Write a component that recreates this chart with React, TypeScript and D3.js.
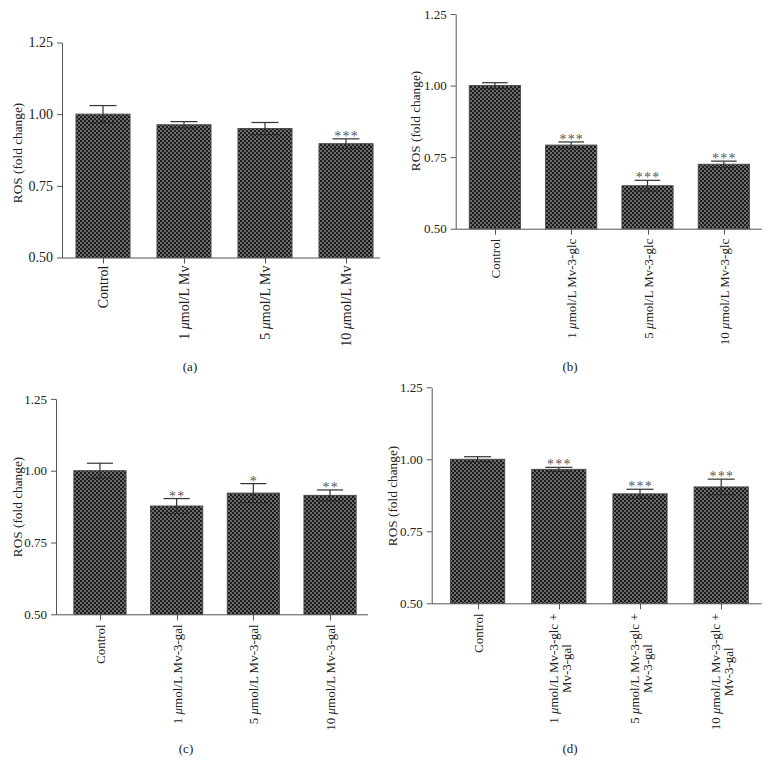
import React, { useEffect, useRef } from 'react';
import * as d3 from 'd3';

// shared y ticks for all four panels
const yTicks = [0.5, 0.75, 1.0, 1.25];

// (a) malvidin
const categoriesA = [['Control'], ['1 μmol/L Mv'], ['5 μmol/L Mv'], ['10 μmol/L Mv']];
const meansA = [1.0, 0.963, 0.95, 0.897];
const errorsA = [0.03, 0.011, 0.021, 0.017];
const starsA = ['', '', '', '***'];

// (b) Mv-3-glc
const categoriesB = [['Control'], ['1 μmol/L Mv-3-glc'], ['5 μmol/L Mv-3-glc'], ['10 μmol/L Mv-3-glc']];
const meansB = [1.0, 0.792, 0.65, 0.725];
const errorsB = [0.01, 0.011, 0.019, 0.011];
const starsB = ['', '***', '***', '***'];

// (c) Mv-3-gal
const categoriesC = [['Control'], ['1 μmol/L Mv-3-gal'], ['5 μmol/L Mv-3-gal'], ['10 μmol/L Mv-3-gal']];
const meansC = [1.0, 0.877, 0.922, 0.914];
const errorsC = [0.026, 0.026, 0.033, 0.019];
const starsC = ['', '**', '*', '**'];

// (d) Mv-3-glc + Mv-3-gal
const categoriesD = [
  ['Control'],
  ['1 μmol/L Mv-3-glc +', 'Mv-3-gal'],
  ['5 μmol/L Mv-3-glc +', 'Mv-3-gal'],
  ['10 μmol/L Mv-3-glc +', 'Mv-3-gal'],
];
const meansD = [1.0, 0.965, 0.88, 0.904];
const errorsD = [0.009, 0.007, 0.016, 0.027];
const starsD = ['', '***', '***', '***'];

const W = 770;
const H = 763;
const FONT = "'Liberation Serif', 'Times New Roman', Times, serif";

const panels = [
  {
    cats: categoriesA, means: meansA, errs: errorsA, stars: starsA,
    axisX: 62, xEnd: 380, yTop: 42.5, yBottom: 257.5, band: [62.5, 386.5], pad: 0.333,
    tickFont: 14, labelGap: 8, yLabelX: 17, yLabelY: 153,
    caption: '(a)', capX: 190, capY: 371,
  },
  {
    cats: categoriesB, means: meansB, errs: errorsB, stars: starsB,
    axisX: 455.7, xEnd: 761.7, yTop: 14, yBottom: 228.7, band: [456.7, 762], pad: 0.33,
    tickFont: 13, labelGap: 10, yLabelX: 415, yLabelY: 121,
    caption: '(b)', capX: 570, capY: 371,
  },
  {
    cats: categoriesC, means: meansC, errs: errorsC, stars: starsC,
    axisX: 56, xEnd: 368, yTop: 398.9, yBottom: 614.3, band: [61.6, 368.4], pad: 0.32,
    tickFont: 13, labelGap: 10, yLabelX: 17, yLabelY: 507,
    caption: '(c)', capX: 186, capY: 753,
  },
  {
    cats: categoriesD, means: meansD, errs: errorsD, stars: starsD,
    axisX: 431.7, xEnd: 761.7, yTop: 387.3, yBottom: 603.3, band: [437, 761.8], pad: 0.333,
    tickFont: 13, labelGap: 10, yLabelX: 392, yLabelY: 496,
    caption: '(d)', capX: 570, capY: 753,
  },
];

// append text with the mu in italics
const addRich = (sel: d3.Selection<SVGTextElement, unknown, null, undefined>, str: string) => {
  str.split(/(μ)/).forEach(part => {
    if (!part) return;
    const t = sel.append('tspan').text(part);
    if (part === 'μ') t.attr('font-style', 'italic');
  });
};

const App: React.FC = () => {
  const svgRef = useRef<SVGSVGElement | null>(null);

  useEffect(() => {
    if (!svgRef.current) return;
    const svg = d3.select(svgRef.current);
    svg.selectAll('.panel').remove();

    panels.forEach(p => {
      const g = svg.append('g').attr('class', 'panel');
      const keys = p.cats.map(c => c.join(' '));

      const y = d3.scaleLinear().domain([0.5, 1.25]).range([p.yBottom, p.yTop]);
      const x = d3
        .scaleBand<string>()
        .domain(keys)
        .range(p.band as [number, number])
        .paddingInner(p.pad)
        .paddingOuter(p.pad / 2);
      const bw = x.bandwidth();

      // bars
      g.selectAll('rect.bar')
        .data(p.means)
        .enter()
        .append('rect')
        .attr('class', 'bar')
        .attr('x', (_, i) => x(keys[i])!)
        .attr('y', d => y(d))
        .attr('width', bw)
        .attr('height', d => y(0.5) - y(d))
        .attr('fill', 'url(#checker)')
        .attr('stroke', '#4a4a4a')
        .attr('stroke-width', 1);

      // error bars + significance stars
      p.means.forEach((m, i) => {
        const cx = x(keys[i])! + bw / 2;
        const top = y(m + p.errs[i]);
        const bot = y(m - p.errs[i]);
        const cap = bw * 0.25;
        g.append('line').attr('x1', cx).attr('x2', cx).attr('y1', top).attr('y2', bot)
          .attr('stroke', '#333').attr('stroke-width', 1.2);
        g.append('line').attr('x1', cx - cap).attr('x2', cx + cap).attr('y1', top).attr('y2', top)
          .attr('stroke', '#333').attr('stroke-width', 1.2);
        g.append('line').attr('x1', cx - cap).attr('x2', cx + cap).attr('y1', bot).attr('y2', bot)
          .attr('stroke', '#2a2a2a').attr('stroke-width', 1);
        if (p.stars[i]) {
          // tiny rotation keeps the glyphs greyscale-antialiased
          g.append('text')
            .attr('transform', `rotate(0.01,${cx},${top})`)
            .attr('x', cx + 0.6)
            .attr('y', top + 2)
            .attr('text-anchor', 'middle')
            .attr('font-family', FONT)
            .attr('font-size', 14)
            .attr('letter-spacing', 1.2)
            .attr('fill', '#555')
            .text(p.stars[i]);
        }
      });

      // y axis
      const yAxis = d3
        .axisLeft(y)
        .tickValues(yTicks)
        .tickFormat(d3.format('.2f'))
        .tickSize(5)
        .tickSizeOuter(0)
        .tickPadding(4);
      const ya = g.append('g').attr('transform', `translate(${p.axisX},0)`).call(yAxis);
      ya.select('.domain').attr('stroke', '#555');
      ya.selectAll('.tick line').attr('stroke', '#555');
      ya.selectAll('.tick text')
        .attr('font-family', FONT)
        .attr('font-size', p.tickFont)
        .attr('fill', '#222');

      // x axis line + ticks + rotated labels
      g.append('line')
        .attr('x1', p.axisX).attr('x2', p.xEnd)
        .attr('y1', p.yBottom + 0.5).attr('y2', p.yBottom + 0.5)
        .attr('stroke', '#555');
      keys.forEach((k, i) => {
        const cx = Math.round(x(k)! + bw / 2) + 0.5;
        g.append('line')
          .attr('x1', cx).attr('x2', cx)
          .attr('y1', p.yBottom).attr('y2', p.yBottom + 6)
          .attr('stroke', '#555');

        const lines = p.cats[i];
        const lab = g.append('g')
          .attr('transform', `translate(${cx},${p.yBottom + p.labelGap}) rotate(-90)`);
        const lineH = p.tickFont;
        let firstLen = 0;
        lines.forEach((ln, j) => {
          const off = (j - (lines.length - 1) / 2) * lineH;
          const t = lab.append('text')
            .attr('y', off)
            .attr('dy', '0.35em')
            .attr('font-family', FONT)
            .attr('font-size', p.tickFont)
            .attr('fill', '#222');
          addRich(t, ln);
          if (j === 0) {
            t.attr('x', 0).attr('text-anchor', 'end');
            firstLen = (t.node() as SVGTextElement).getComputedTextLength();
          } else {
            t.attr('x', -firstLen / 2).attr('text-anchor', 'middle');
          }
        });
      });

      // y axis title
      g.append('text')
        .attr('transform', `translate(${p.yLabelX},${p.yLabelY}) rotate(-90)`)
        .attr('text-anchor', 'middle')
        .attr('dy', '0.35em')
        .attr('font-family', FONT)
        .attr('font-size', 13.3)
        .attr('fill', '#222')
        .text('ROS (fold change)');

      // panel caption
      g.append('text')
        .attr('x', p.capX)
        .attr('y', p.capY)
        .attr('text-anchor', 'middle')
        .attr('font-family', FONT)
        .attr('font-size', 13)
        .attr('fill', '#222')
        .text(p.caption);
    });
  }, []);

  return (
    <svg
      ref={svgRef}
      width={W}
      height={H}
      style={{ position: 'absolute', left: 0, top: 0, background: '#fff' }}
    >
      <defs>
        <pattern id="checker" width={4} height={4} patternUnits="userSpaceOnUse">
          <rect width={4} height={4} fill="#6c6c6c" />
          <rect x={0} y={0} width={2} height={2} fill="#1c1c1c" />
          <rect x={2} y={2} width={2} height={2} fill="#1c1c1c" />
        </pattern>
      </defs>
    </svg>
  );
};

export default App;
